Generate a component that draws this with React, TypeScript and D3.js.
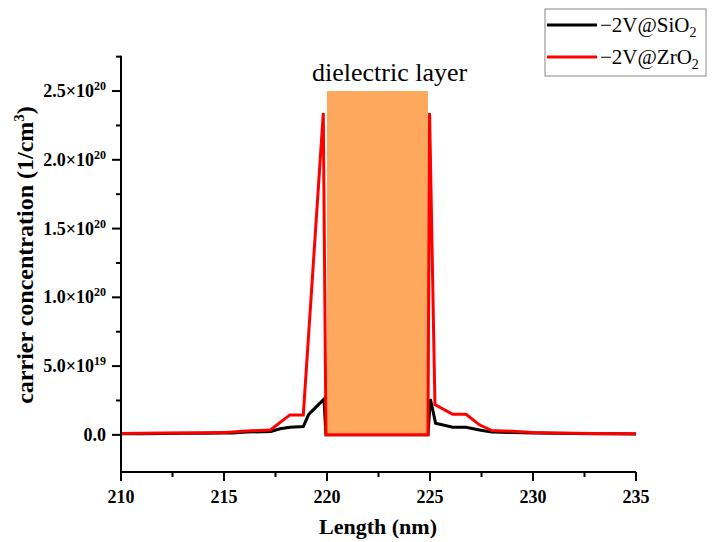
import React from "react";
import * as d3 from "d3";

const xSiO2 = [210, 211, 212, 213, 214, 215, 215.4, 216.1, 217.27, 217.72, 218.2, 218.85, 219.1, 219.2, 219.85, 219.95, 224.9, 225.02, 225.27, 226.1, 226.75, 227.4, 228.0, 229, 230, 231, 232, 233, 234, 235];
const ySiO2 = [0.08e19, 0.09e19, 0.1e19, 0.11e19, 0.12e19, 0.13e19, 0.14e19, 0.2e19, 0.25e19, 0.44e19, 0.56e19, 0.6e19, 1.45e19, 1.62e19, 2.6e19, 0, 0, 2.6e19, 0.85e19, 0.56e19, 0.56e19, 0.36e19, 0.2e19, 0.17e19, 0.13e19, 0.11e19, 0.1e19, 0.09e19, 0.08e19, 0.07e19];

const xZrO2 = [210, 211, 212, 213, 214, 215, 215.4, 216.1, 217.25, 218.2, 218.85, 219.82, 219.95, 224.9, 224.98, 225.24, 226.1, 226.75, 227.4, 228.0, 229, 230, 231, 232, 233, 234, 235];
const yZrO2 = [0.1e19, 0.11e19, 0.13e19, 0.14e19, 0.16e19, 0.18e19, 0.2e19, 0.28e19, 0.36e19, 1.45e19, 1.45e19, 2.34e20, 0, 0, 2.34e20, 2.2e19, 1.5e19, 1.5e19, 0.73e19, 0.31e19, 0.26e19, 0.18e19, 0.14e19, 0.12e19, 0.1e19, 0.09e19, 0.08e19];

const xTicks = [210, 215, 220, 225, 230, 235];
const xMinor = [212.5, 217.5, 222.5, 227.5, 232.5];
const yTicks = [0, 5e19, 1e20, 1.5e20, 2e20, 2.5e20];
const yTickMant = ["0.0", "5.0", "1.0", "1.5", "2.0", "2.5"];
const yTickExp = ["", "19", "20", "20", "20", "20"];
const yMinor = [2.5e19, 7.5e19, 1.25e20, 1.75e20, 2.25e20, 2.75e20];
const layer = { x0: 220, x1: 224.9, top: 2.5e20, bottom: 0 };

const series = [
  { name: "SiO", xs: xSiO2, ys: ySiO2, color: "#000000" },
  { name: "ZrO", xs: xZrO2, ys: yZrO2, color: "#FF0000" },
];

export default function App() {
  const W = 712, H = 542;
  const x = d3.scaleLinear().domain([210, 235]).range([121, 636]);
  const y = d3.scaleLinear().domain([-2.7e19, 2.757e20]).range([472, 55.7]);
  const line = (xs: number[], ys: number[]) =>
    d3.line<number>().x((_, i) => x(xs[i])).y((d) => y(d))(ys) as string;
  const font = "'Liberation Serif', 'Times New Roman', serif";
  return (
    <svg width={W} height={H} style={{ position: "absolute", left: 0, top: 0, background: "#fff" }} fontFamily={font}>
      <path d={line(series[0].xs, series[0].ys)} fill="none" stroke="#000" strokeWidth={3} strokeLinejoin="miter" />
      <rect x={x(layer.x0)} y={y(layer.top)} width={x(layer.x1) - x(layer.x0)} height={y(layer.bottom) - y(layer.top)} fill="#FEA85E" />
      <path d={line(series[1].xs, series[1].ys)} fill="none" stroke="#FF0000" strokeWidth={3} strokeLinejoin="miter" />
      <text x={312} y={81} fontSize={26}>dielectric layer</text>

      <line x1={x(210)} x2={x(210)} y1={y.range()[1]} y2={y.range()[0]} stroke="#000" strokeWidth={2} />
      <line x1={x(210)} x2={x(235)} y1={y.range()[0]} y2={y.range()[0]} stroke="#000" strokeWidth={2} />
      {yTicks.map((t, i) => (
        <g key={"yt" + i}>
          <line x1={x(210) - 9} x2={x(210)} y1={y(t)} y2={y(t)} stroke="#000" strokeWidth={2} />
          <text x={106} y={y(t) + 6} textAnchor="end" fontSize={18} fontWeight="bold">
            {yTickMant[i]}
            {yTickExp[i] ? "×10" : ""}
            {yTickExp[i] ? <tspan dy={-7} fontSize={12}>{yTickExp[i]}</tspan> : null}
          </text>
        </g>
      ))}
      {yMinor.map((t, i) => (
        <line key={"ym" + i} x1={x(210) - 5} x2={x(210)} y1={y(t)} y2={y(t)} stroke="#000" strokeWidth={2} />
      ))}
      {xTicks.map((t, i) => (
        <g key={"xt" + i}>
          <line x1={x(t)} x2={x(t)} y1={y.range()[0]} y2={y.range()[0] + 9} stroke="#000" strokeWidth={2} />
          <text x={x(t)} y={503} textAnchor="middle" fontSize={18} fontWeight="bold">{t}</text>
        </g>
      ))}
      {xMinor.map((t, i) => (
        <line key={"xm" + i} x1={x(t)} x2={x(t)} y1={y.range()[0]} y2={y.range()[0] + 5} stroke="#000" strokeWidth={2} />
      ))}
      <text x={378} y={534} textAnchor="middle" fontSize={22} fontWeight="bold">Length (nm)</text>
      <text transform="translate(33,255) rotate(-90)" textAnchor="middle" fontSize={24} fontWeight="bold">
        carrier concentration (1/cm<tspan dy={-9} fontSize={15}>3</tspan><tspan dy={9}>)</tspan>
      </text>

      <rect x={545} y={9} width={161} height={67} fill="#fff" stroke="#888" strokeWidth={1} />
      {series.map((s, i) => (
        <g key={"lg" + i}>
          <line x1={547} x2={597} y1={25 + i * 32} y2={25 + i * 32} stroke={s.color} strokeWidth={3} />
          <text x={600} y={32 + i * 32} fontSize={21}>
            −2V@{s.name === "SiO" ? "SiO" : "ZrO"}<tspan dy={5} fontSize={14}>2</tspan>
          </text>
        </g>
      ))}
    </svg>
  );
}
